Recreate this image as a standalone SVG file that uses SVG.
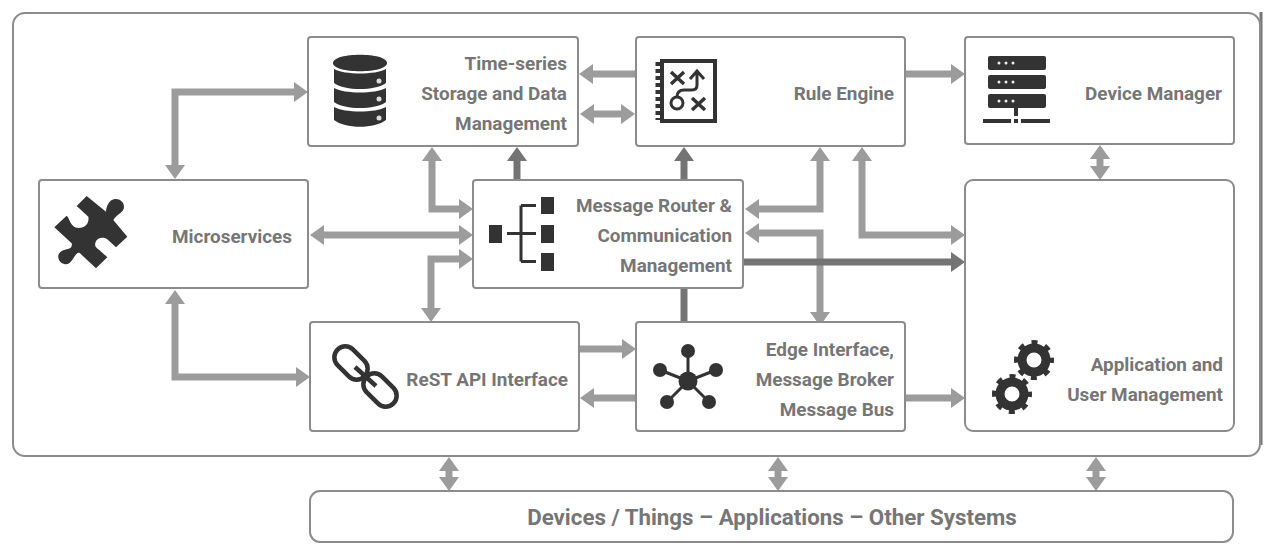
<svg xmlns="http://www.w3.org/2000/svg" xmlns:xlink="http://www.w3.org/1999/xlink" width="1274" height="556" viewBox="0 0 1274 556">
<style>
.box{fill:#fff;stroke:#8c8c8c;stroke-width:2}
.lbl{font-family:Roboto,"Liberation Sans",sans-serif;font-weight:700;font-size:18.900px;fill:#767676;text-anchor:end}
.c{fill:none;stroke:#9c9c9c;stroke-width:7}
.two{marker-start:url(#al);marker-end:url(#al)}
.one{marker-end:url(#al)}
.d{fill:none;stroke:#747474;stroke-width:7}
.dk{marker-end:url(#ad)}
.i{fill:#333}
.il{fill:none;stroke:#333;stroke-width:3}
</style>
<defs>
<marker id="al" viewBox="0 0 14 20" refX="1" refY="10" markerWidth="14" markerHeight="20" markerUnits="userSpaceOnUse" orient="auto-start-reverse"><path d="M0 0L14 10L0 20Z" fill="#9c9c9c" stroke="none"/></marker>
<marker id="ad" viewBox="0 0 14 20" refX="1" refY="10" markerWidth="14" markerHeight="20" markerUnits="userSpaceOnUse" orient="auto-start-reverse"><path d="M0 0L14 10L0 20Z" fill="#747474" stroke="none"/></marker>
<g id="gear"><circle r="12" fill="none" stroke="#333" stroke-width="9"/><circle r="17.500" fill="none" stroke="#333" stroke-width="5" stroke-dasharray="6 7.740" stroke-dashoffset="3"/></g>
</defs>
<rect width="1274" height="556" fill="#fff"/>
<g id="platform"><path d="M1261 12V445" fill="none" stroke="#777" stroke-width="3"/><rect class="box" x="13" y="13" width="1247" height="443" rx="12"/></g>
<g id="connectors">
<path class="c two" d="M175 166V92H295"/>
<path class="c two" d="M175 303V377H297"/>
<path class="c two" d="M323 235H460"/>
<path class="c two" d="M432 160V209H460"/>
<path class="c two" d="M431 309V259H460"/>
<path class="c one" d="M636 74H592"/>
<path class="c two" d="M593 114H622"/>
<path class="c one" d="M905 74H952"/>
<path class="c two" d="M1100 158V167"/>
<path class="c two" d="M820 160V209H758"/>
<path class="c two" d="M862 160V235H952"/>
<path class="c two" d="M758 233H820V313"/>
<path class="c one" d="M580 349H623"/>
<path class="c one" d="M636 398H593"/>
<path class="c one" d="M905 398H952"/>
<path class="c two" d="M449 470V478"/>
<path class="c two" d="M778 470V478"/>
<path class="c two" d="M1096 470V478"/>
<path class="d dk" d="M517 180V160"/>
<path class="d dk" d="M684 180V160"/>
<path class="d" d="M684 288V322"/>
<path class="d dk" d="M743 262H952"/>
</g>
<g id="time-series">
<rect class="box" x="308" y="37" width="270" height="109" rx="3"/>
<path class="i" d="M333 63C333 52 387 52 387 63C387 74 333 74 333 63Z"/>
<path class="i" d="M334 69C345 75 375 75 386 69V83C375 91 345 91 334 83Z"/>
<path class="i" d="M334 88C345 94 375 94 386 88V102C375 110 345 110 334 102Z"/>
<path class="i" d="M334 107C345 113 375 113 386 107V120C375 129 345 129 334 120Z"/>
<g fill="#ddd"><circle cx="379" cy="81" r="2.500"/><circle cx="379" cy="99" r="2.500"/><circle cx="379" cy="118" r="2.500"/></g>
<text class="lbl" x="567" y="70">Time-series</text><text class="lbl" x="567" y="100">Storage and Data</text><text class="lbl" x="567" y="130">Management</text>
</g>
<g id="rule-engine">
<rect class="box" x="636" y="37" width="269" height="109" rx="3"/>
<rect x="662" y="61" width="53" height="60" fill="none" stroke="#333" stroke-width="4"/>
<path d="M658 62V120" stroke="#333" stroke-width="5" stroke-dasharray="4 3" fill="none"/>
<path class="il" style="stroke-width:3.500" d="M671 72L684 84M684 72L671 84M692 98L705 110M705 98L692 110"/>
<path class="il" d="M697 72V85Q697 90 692 90H684Q677 90 677 97M690 79L697 71L704 79"/>
<circle cx="677" cy="103" r="6" fill="none" stroke="#333" stroke-width="3"/>
<text class="lbl" x="894" y="100">Rule Engine</text>
</g>
<g id="device-manager">
<rect class="box" x="965" y="37" width="269" height="107" rx="3"/>
<rect class="i" x="988" y="56" width="58" height="14" rx="2"/><rect class="i" x="988" y="75" width="58" height="14" rx="2"/><rect class="i" x="988" y="94" width="58" height="14" rx="2"/>
<g fill="#eee"><circle cx="999" cy="63" r="1.500"/><circle cx="1006" cy="63" r="1.500"/><circle cx="1013" cy="63" r="1.500"/><circle cx="999" cy="82" r="1.500"/><circle cx="1006" cy="82" r="1.500"/><circle cx="1013" cy="82" r="1.500"/><circle cx="999" cy="101" r="1.500"/><circle cx="1006" cy="101" r="1.500"/><circle cx="1013" cy="101" r="1.500"/></g>
<path class="i" d="M1014 108h4v8h-4zM983 119h28v4h-28zM1014 119h4v4h-4zM1021 119h29v4h-29z"/>
<text class="lbl" x="1222" y="100">Device Manager</text>
</g>
<g id="microservices">
<rect class="box" x="39" y="180" width="269" height="108" rx="3"/>
<path class="i" transform="translate(20 170) scale(.3333)" d="M200 78L258 125C258 125 258 105 272 92C290 80 312 92 312 110C312 128 292 130 280 150L322 200L288 232L262 208C240 195 222 212 226 228C230 236 240 240 262 262L228 295L180 250C165 240 160 285 135 283C115 280 108 255 122 245C135 235 160 240 155 220L103 172L140 137C150 145 150 172 175 174C200 174 208 155 205 140L170 108Z"/>
<text class="lbl" x="292" y="243">Microservices</text>
</g>
<g id="message-router">
<rect class="box" x="473" y="180" width="270" height="108" rx="3"/>
<rect class="i" x="489" y="225" width="13" height="18"/><rect class="i" x="541" y="197" width="13" height="17"/><rect class="i" x="541" y="225" width="13" height="18"/><rect class="i" x="541" y="253" width="13" height="18"/>
<path class="il" d="M507 233.500H536M521 205.500V261.500M521 205.500H536M521 261.500H536"/>
<text class="lbl" x="732" y="212">Message Router &amp;</text><text class="lbl" x="732" y="242">Communication</text><text class="lbl" x="732" y="272">Management</text>
</g>
<g id="application">
<rect class="box" x="965" y="180" width="269" height="251" rx="8"/>
<use href="#gear" xlink:href="#gear" x="1034" y="360"/><use href="#gear" xlink:href="#gear" x="1012" y="394"/>
<text class="lbl" x="1223" y="371">Application and</text><text class="lbl" x="1223" y="401">User Management</text>
</g>
<g id="rest-api">
<rect class="box" x="310" y="322" width="269" height="109" rx="3"/>
<g fill="none" stroke="#333" stroke-width="4.500">
<rect x="-19" y="-11" width="38" height="22" rx="11" transform="translate(351 363) rotate(45)"/>
<rect x="-19" y="-11" width="38" height="22" rx="11" transform="translate(380 390) rotate(45)"/>
<path d="M355 367L376 386"/>
</g>
<text class="lbl" x="568" y="386">ReST API Interface</text>
</g>
<g id="edge-interface">
<rect class="box" x="636" y="322" width="269" height="109" rx="3"/>
<path class="il" d="M688 381V351M688 381L660 370M688 381L716 370M688 381L667 402M688 381L709 402"/>
<g class="i"><circle cx="688" cy="381" r="9.500"/><circle cx="688" cy="351" r="7"/><circle cx="660" cy="370" r="7"/><circle cx="716" cy="370" r="7"/><circle cx="667" cy="402" r="7"/><circle cx="709" cy="402" r="7"/></g>
<text class="lbl" x="894" y="356">Edge Interface,</text><text class="lbl" x="894" y="386">Message Broker</text><text class="lbl" x="894" y="416">Message Bus</text>
</g>
<g id="devices">
<rect class="box" x="310" y="491" width="923" height="51" rx="10"/>
<text class="lbl" x="772" y="525" style="font-size:22.300px;text-anchor:middle">Devices / Things – Applications – Other Systems</text>
</g>
</svg>
